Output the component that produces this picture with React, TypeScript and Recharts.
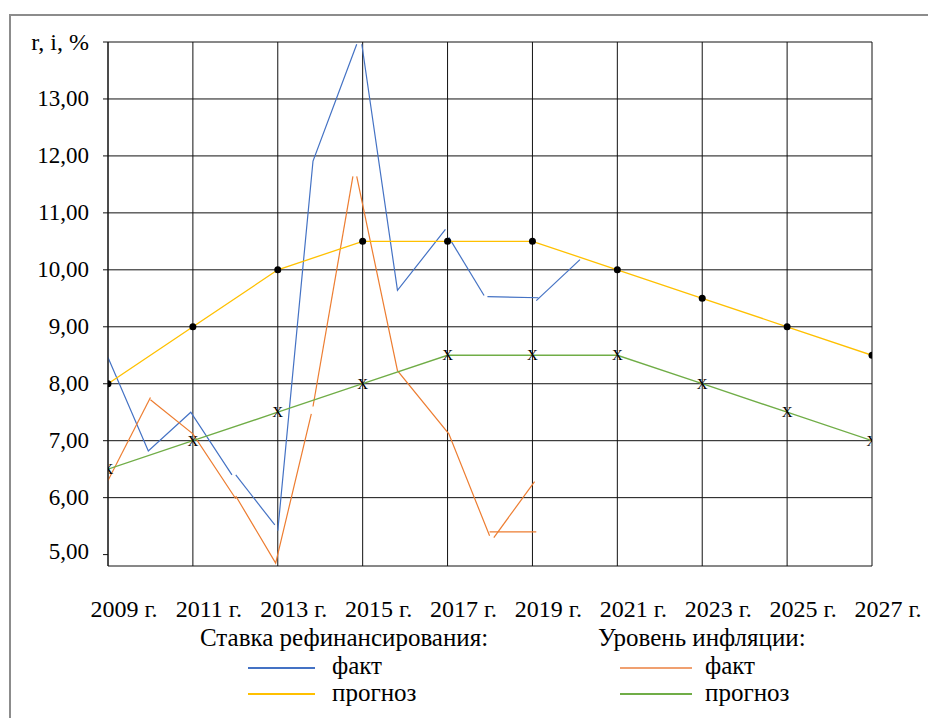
import { LineChart, Line, XAxis, YAxis, CartesianGrid } from "recharts";

const YEARS = [2009, 2011, 2013, 2015, 2017, 2019, 2021, 2023, 2025, 2027];
const REFI_FORECAST = [8, 9, 10, 10.5, 10.5, 10.5, 10, 9.5, 9, 8.5];
const INFL_FORECAST = [6.5, 7, 7.5, 8, 8.5, 8.5, 8.5, 8, 7.5, 7];

// fact series are drawn by hand in pieces: [year, value]
const REFI_FACT: [number, number][][] = [
  [[2009, 8.46], [2009.95, 6.82], [2010.95, 7.5], [2011.92, 6.4]],
  [[2012.01, 6.4], [2012.93, 5.52]],
  [[2013.0, 5.42], [2013.83, 11.91], [2014.86, 13.96]],
  [[2014.98, 13.96], [2015.82, 9.64], [2016.95, 10.71]],
  [[2017.03, 10.57], [2017.86, 9.55]],
  [[2017.94, 9.53], [2019.14, 9.51]],
  [[2019.09, 9.46], [2020.12, 10.18]],
];
const INFL_FACT: [number, number][][] = [
  [[2009, 6.3], [2010, 7.76]],
  [[2010, 7.72], [2011, 7.12], [2012.01, 5.98]],
  [[2012.01, 6.03], [2012.95, 4.85], [2013.79, 7.47]],
  [[2013.83, 7.6], [2014.77, 11.64]],
  [[2014.86, 11.64], [2015.82, 8.23], [2017.03, 7.12], [2017.99, 5.33]],
  [[2018.09, 5.3], [2019.05, 6.28]],
  [[2017.99, 5.4], [2019.09, 5.4]],
];

const Y_TICKS = [5, 6, 7, 8, 9, 10, 11, 12, 13, 14];
const Y_GRID = [6, 7, 8, 9, 10, 11, 12, 13, 14];
const Y_TITLE = "r, i, %";

const LEGEND = [
  { title: "Ставка рефинансирования:", left: 200, lineLeft: 248, lineWidth: 67, textLeft: 332,
    items: [{ label: "факт", color: "#4472C4" }, { label: "прогноз", color: "#FFC000" }] },
  { title: "Уровень инфляции:", left: 598, lineLeft: 620, lineWidth: 72, textLeft: 705,
    items: [{ label: "факт", color: "#F0A070" }, { label: "прогноз", color: "#70AD47" }] },
];

const FONT = "'Liberation Serif', 'Times New Roman', serif";

const forecast = YEARS.map((year, i) => ({ year, refi: REFI_FORECAST[i], infl: INFL_FORECAST[i] }));
const toRows = (seg: [number, number][]) => seg.map(([year, v]) => ({ year, v }));

const YTick = ({ x, y, payload }: any) => (
  <text x={x} y={payload.value === 5 ? y - 3 : y} textAnchor="end" dominantBaseline="central"
    fontFamily={FONT} fontSize={payload.value === 14 ? 24 : 23} fill="#000">
    {payload.value === 14 ? Y_TITLE : payload.value.toFixed(2).replace(".", ",")}
  </text>
);

const XTick = ({ x, y, payload }: any) => (
  <text x={x + 16} y={y + 51} textAnchor="middle" fontFamily={FONT} fontSize={24} fill="#000">
    {payload.value} г.
  </text>
);

const BlackDot = ({ cx, cy }: any) => <circle cx={cx} cy={cy} r={3.5} fill="#000" />;
const CrossDot = ({ cx, cy }: any) => (
  <text x={cx} y={cy} textAnchor="middle" dominantBaseline="central" fontFamily={FONT} fontSize={15} fill="#000">X</text>
);

export default function App() {
  return (
    <div style={{ position: "absolute", left: 0, top: 0, width: 928, height: 718, background: "#fff", fontFamily: FONT }}>
      <div style={{ position: "absolute", left: 9, top: 14, width: 919, height: 704, borderLeft: "2px solid #8c8c8c", borderTop: "2px solid #8c8c8c" }} />
      <LineChart width={928} height={718} margin={{ top: 42, right: 56, bottom: 0, left: 0 }}>
        <CartesianGrid stroke="#111" strokeWidth={1} horizontalValues={Y_GRID} />
        <XAxis dataKey="year" type="number" domain={[2009, 2027]} ticks={YEARS} allowDataOverflow
          axisLine={{ stroke: "#111" }} tickLine={false} tickSize={0} tickMargin={0} tick={<XTick />} height={152} />
        <YAxis type="number" domain={[4.8, 14]} ticks={Y_TICKS} allowDataOverflow width={108}
          axisLine={{ stroke: "#111" }} tickLine={{ stroke: "#111" }} tickSize={5} tickMargin={14} tick={<YTick />} />
        {REFI_FACT.map((seg, i) => (
          <Line key={"rf" + i} data={toRows(seg)} dataKey="v" stroke="#4472C4" strokeWidth={1.2} dot={false} isAnimationActive={false} />
        ))}
        {INFL_FACT.map((seg, i) => (
          <Line key={"if" + i} data={toRows(seg)} dataKey="v" stroke="#ED7D31" strokeWidth={1.2} dot={false} isAnimationActive={false} />
        ))}
        <Line data={forecast} dataKey="refi" stroke="#FFC000" strokeWidth={1.3} dot={<BlackDot />} isAnimationActive={false} />
        <Line data={forecast} dataKey="infl" stroke="#70AD47" strokeWidth={1.3} dot={<CrossDot />} isAnimationActive={false} />
      </LineChart>
      {LEGEND.map((g) => (
        <div key={g.title}>
          <div style={{ position: "absolute", left: g.left, top: 624, fontSize: 25, lineHeight: "28px", whiteSpace: "nowrap" }}>{g.title}</div>
          {g.items.map((it, j) => (
            <div key={it.label}>
              <div style={{ position: "absolute", left: g.lineLeft, top: 667 + j * 26, width: g.lineWidth, height: 0, borderTop: `2px solid ${it.color}` }} />
              <div style={{ position: "absolute", left: g.textLeft, top: 652 + j * 27, fontSize: 25, lineHeight: "28px", whiteSpace: "nowrap" }}>{it.label}</div>
            </div>
          ))}
        </div>
      ))}
    </div>
  );
}
